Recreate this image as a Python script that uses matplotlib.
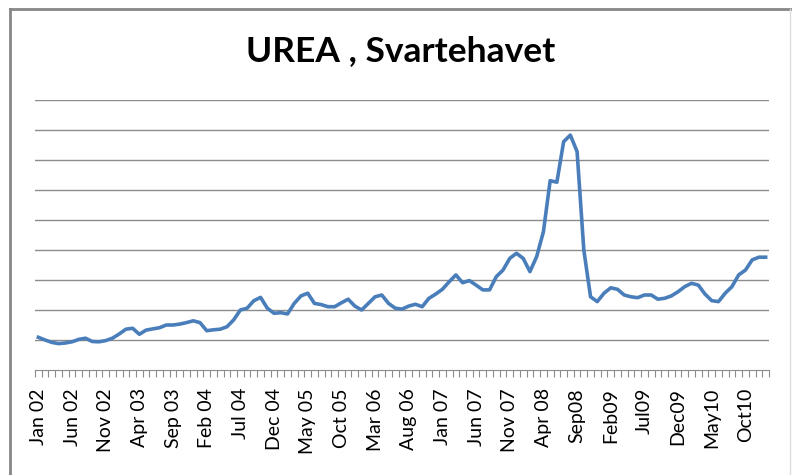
#!/usr/bin/env python3
import numpy as np
from matplotlib import pyplot as plt
from matplotlib.lines import Line2D

# monthly urea price, Jan 2002 - Jan 2011
values = [
    109, 100, 92, 88, 90, 94, 102, 106, 95, 94, 98, 106,
    120, 136, 139, 119, 133, 137, 141, 150, 150, 153, 158, 164,
    158, 131, 134, 136, 144, 167, 200, 206, 231, 242, 206, 189,
    191, 187, 222, 247, 256, 222, 218, 211, 211, 224, 236, 213,
    200, 222, 244, 250, 222, 206, 203, 213, 219, 211, 239, 253,
    269, 294, 317, 291, 298, 283, 267, 267, 311, 333, 372, 389,
    372, 328, 378, 461, 631, 626, 761, 783, 728, 400, 244, 228,
    256, 274, 269, 250, 244, 241, 250, 250, 236, 239, 247, 261,
    278, 289, 283, 253, 231, 228, 256, 278, 317, 333, 367, 376,
    376,
]
tick_labels = ['Jan 02', 'Jun 02', 'Nov 02', 'Apr 03', 'Sep 03', 'Feb 04',
               'Jul 04', 'Dec 04', 'May 05', 'Oct 05', 'Mar 06', 'Aug 06',
               'Jan 07', 'Jun 07', 'Nov 07', 'Apr 08', 'Sep08', 'Feb09',
               'Jul09', 'Dec09', 'May10', 'Oct10']
title = 'UREA , Svartehavet'

plt.rcParams['font.family'] = ['Lato', 'DejaVu Sans']

fig = plt.figure(figsize=(7.92, 4.75), dpi=100)
ax = fig.add_axes([35 / 792, 1 - 370 / 475, 734 / 792, 270 / 475])

x = np.arange(len(values))
ax.plot(x, values, color='#4A7EBB', lw=2.6, solid_joinstyle='round')

ax.set_xlim(-0.5, len(values) - 0.5)
ax.set_ylim(0, 900)
ax.set_yticks(np.arange(100, 901, 100))
ax.yaxis.grid(True, color='#8c8c8c', lw=1)
ax.set_axisbelow(True)
ax.tick_params(axis='y', left=False, labelleft=False)

ax.set_xticks(np.arange(0, len(values), 5)[:len(tick_labels)])
ax.set_xticklabels(tick_labels, rotation=90, fontsize=14, va='top')
ax.set_xticks(np.arange(-0.5, len(values), 1), minor=True)
ax.tick_params(axis='x', which='major', length=0, pad=13)
ax.tick_params(axis='x', which='minor', length=5, direction='out',
               color='#8c8c8c', width=0.8)

for s in ['top', 'right', 'left']:
    ax.spines[s].set_visible(False)
ax.spines['bottom'].set_color('#8c8c8c')

fig.text(401 / 792, 1 - 51 / 475, title, ha='center', va='center',
         fontsize=25.5, fontweight='bold')

# chart frame
fig.add_artist(Line2D([10 / 792, 10 / 792], [0, 1 - 9 / 475],
                      transform=fig.transFigure, color='#868686', lw=2))
fig.add_artist(Line2D([10 / 792, 1], [1 - 9 / 475, 1 - 9 / 475],
                      transform=fig.transFigure, color='#868686', lw=2))
fig.add_artist(Line2D([790 / 792, 790 / 792], [0, 1 - 9 / 475],
                      transform=fig.transFigure, color='#dcdcdc', lw=1))

plt.savefig('out.png', dpi=100)
